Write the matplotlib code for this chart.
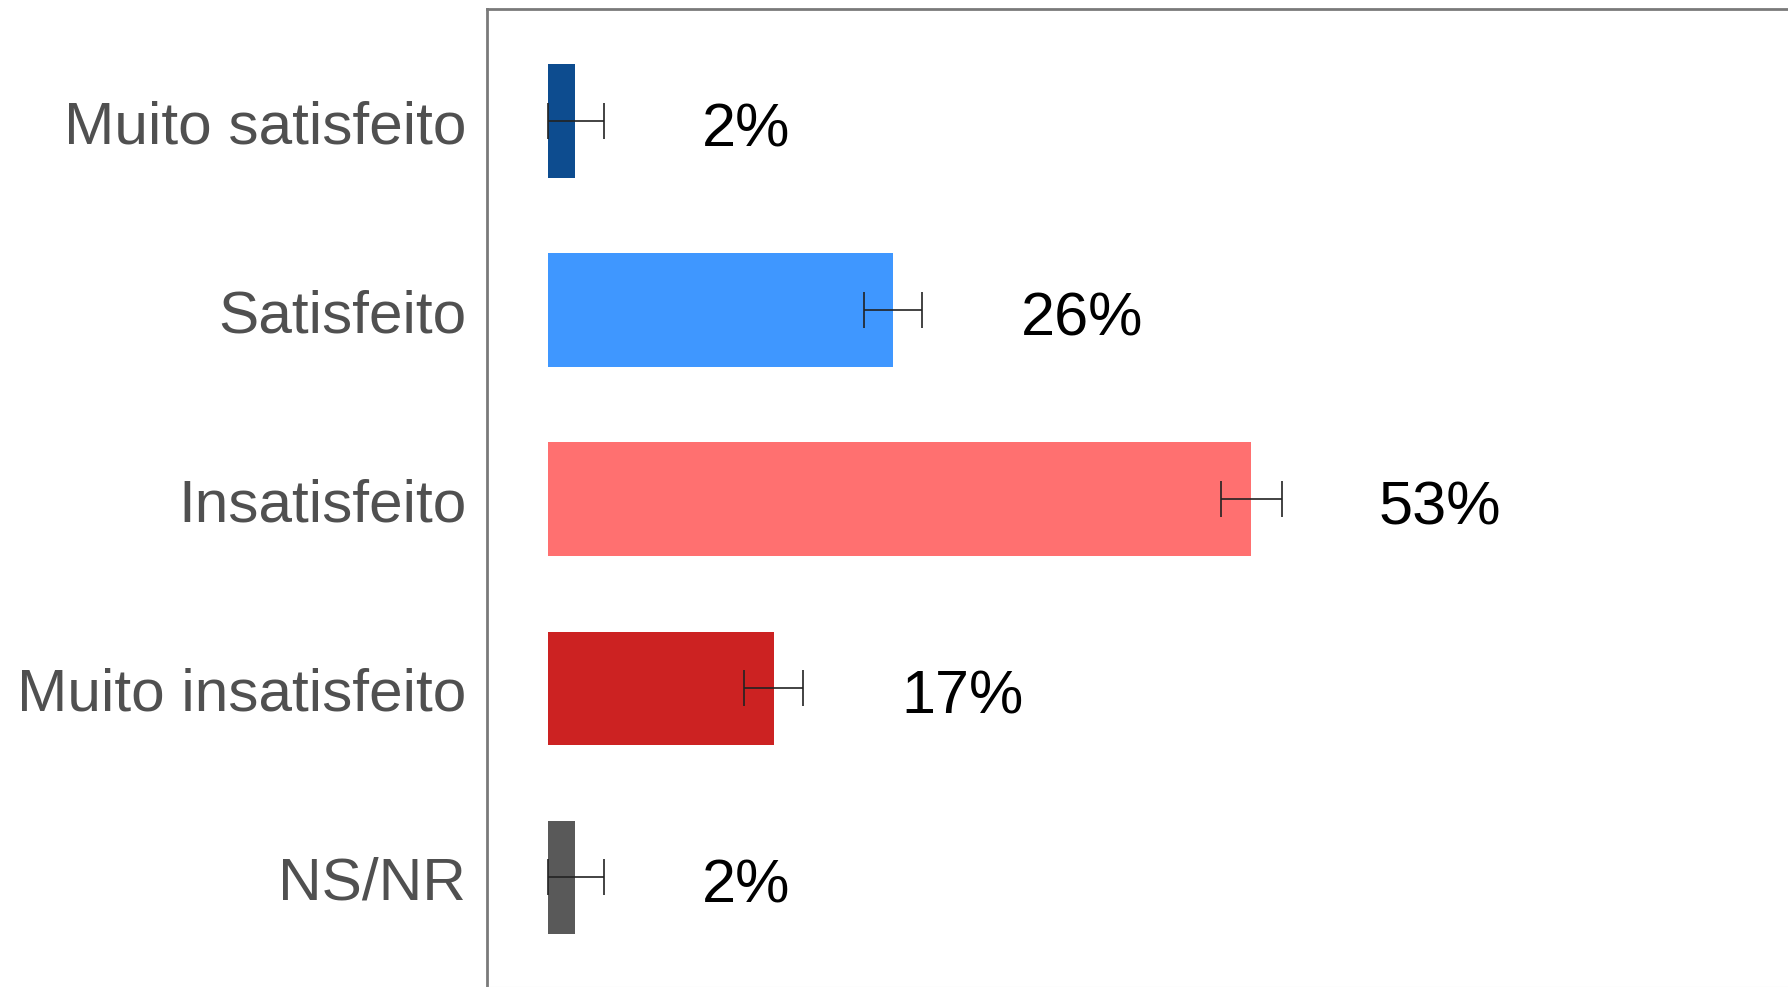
import numpy as np
import matplotlib.pyplot as plt

# Data
categories = ['Muito satisfeito', 'Satisfeito', 'Insatisfeito', 'Muito insatisfeito', 'NS/NR']
values = [2, 26, 53, 17, 2]
errors = [2.2, 2.2, 2.3, 2.2, 2.2]
labels = ['2%', '26%', '53%', '17%', '2%']
colors = ['#0D4C8F', '#3F97FF', '#FF7070', '#CC2222', '#595959']

plt.rcParams['font.family'] = ['Liberation Sans', 'DejaVu Sans']

fig = plt.figure(figsize=(17.88, 9.875), dpi=100)
ax = fig.add_axes([487 / 1788, 0.0, 1 - 487 / 1788 + 0.01, 1 - 9 / 987])

y = np.arange(len(categories))
vals = np.array(values, dtype=float)
err = np.array(errors)
lower = np.minimum(err, vals)

ax.barh(y, vals, height=0.6, color=colors, zorder=2)
ax.errorbar(vals, y, xerr=[lower, err], fmt='none', ecolor='#222222',
            elinewidth=1.2, capsize=13, capthick=1.2, zorder=3)

for yi, v, lab in zip(y, vals, labels):
    ax.text(v + 9.6, yi + 0.13, lab, ha='left', va='baseline', fontsize=44, color='black')

ax.set_xlim(-4.6, 94.8)
ax.set_ylim(4.58, -0.595)
ax.set_yticks(y)
ax.set_yticklabels(categories, fontsize=43.5, color='#505050')
ax.set_xticks([])
ax.tick_params(axis='y', length=0, pad=15)

for side in ['left', 'top']:
    ax.spines[side].set_color('#7a7a7a')
    ax.spines[side].set_linewidth(2)
ax.spines['right'].set_visible(False)
ax.spines['bottom'].set_color('#dddddd')

fig.savefig('out.png', dpi=100)
